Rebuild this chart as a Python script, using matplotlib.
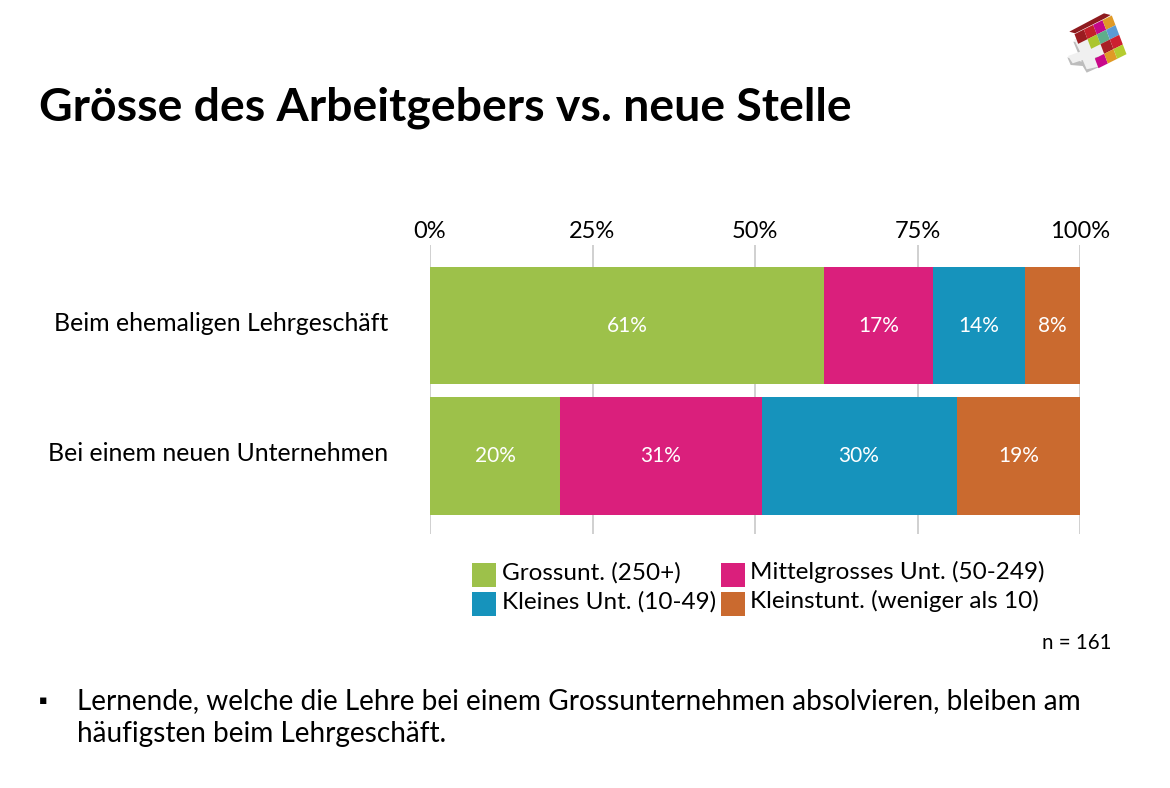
#!/usr/bin/env python3
"""Grösse des Arbeitgebers vs. neue Stelle: gestapelte Balken auf einer Folie"""

import numpy as np
from matplotlib import pyplot as plt
from matplotlib.patches import Polygon
from matplotlib.transforms import ScaledTranslation

plt.rcParams['font.family'] = ['Lato', 'DejaVu Sans']

# ======== Daten ========
categories = ['Beim ehemaligen Lehrgeschäft', 'Bei einem neuen Unternehmen']
series_names = ['Grossunt. (250+)', 'Mittelgrosses Unt. (50-249)',
                'Kleines Unt. (10-49)', 'Kleinstunt. (weniger als 10)']
grossunt = [60.6, 20.0]
mittel = [16.8, 31.0]
klein = [14.1, 30.0]
kleinst = [8.5, 19.0]
labels_grossunt = ['61%', '20%']
labels_mittel = ['17%', '31%']
labels_klein = ['14%', '30%']
labels_kleinst = ['8%', '19%']
x_ticks = [0, 25, 50, 75, 100]
colors = ['#9DC14A', '#DA1F7C', '#1693BC', '#CA6A2F']
# =======================

W, H = 1170, 788
fig = plt.figure(figsize=(W / 100, H / 100), dpi=100, facecolor='white')

# Hilfsachse in Pixeln für Logo
bg = fig.add_axes([0, 0, 1, 1])
bg.set_xlim(0, W)
bg.set_ylim(H, 0)
bg.axis('off')


def zoomed(pts):
    """Logo-Koordinaten (3x-Ausschnitt) -> Folienpixel"""
    return [(1040 + x / 3, y / 3) for x, y in pts]


# weisses Kreuz mit grauer Kante
bg.add_patch(Polygon(zoomed([(100, 125), (125, 185), (82, 172), (92, 195), (128, 198),
                             (140, 218), (180, 200), (165, 130)]),
                     fc='#BDBDBD', ec='none'))
bg.add_patch(Polygon(zoomed([(102, 118), (190, 100), (200, 165), (165, 172), (175, 200),
                             (140, 208), (128, 180), (98, 190), (84, 168), (120, 155)]),
                     fc='#F0F0F0', ec='none'))
# Oberkante
bg.add_patch(Polygon(zoomed([(88, 95), (192, 40), (212, 45), (195, 55), (105, 100)]),
                     fc='#8E1B1F', ec='none'))
u, v = np.array([28, -14]), np.array([11, 29])
origin = np.array([207, 68]) - 3 * u
logo_cells = {(0, 0): '#9B1B20', (0, 1): '#C4202A', (0, 2): '#C4088A', (0, 3): '#E09A26',
              (1, 1): '#ABC62E', (1, 2): '#5FAE8B', (1, 3): '#5B9BD5',
              (2, 2): '#A81F26', (2, 3): '#CC2030',
              (3, 1): '#C9098A', (3, 2): '#E09A26', (3, 3): '#B5CC30'}
for (r, c), col in logo_cells.items():
    m = origin + c * u + r * v
    bg.add_patch(Polygon(zoomed([m - (u + v) / 2, m + (u - v) / 2,
                                 m + (u + v) / 2, m + (v - u) / 2]),
                         fc=col, ec='none'))

# Titel und Text
fig.text(39 / W, 1 - 108 / H, 'Grösse des Arbeitgebers vs. neue Stelle',
         fontsize=33.4, fontweight='bold', color='black', va='center', ha='left')
fig.text(1112 / W, 1 - 643 / H, 'n = 161', fontsize=14.8, ha='right', va='center')
fig.text(39 / W, 1 - 700 / H, '▪', fontsize=9, ha='left', va='center',
         family=['DejaVu Sans'])
fig.text(77 / W, 1 - 701 / H,
         'Lernende, welche die Lehre bei einem Grossunternehmen absolvieren, bleiben am',
         fontsize=20.2, ha='left', va='center')
fig.text(77 / W, 1 - 734 / H, 'häufigsten beim Lehrgeschäft.',
         fontsize=20.2, ha='left', va='center')

# Diagramm
ax = fig.add_axes([430 / W, 1 - 534 / H, 650 / W, 289 / H])
ax.patch.set_alpha(0)
y = np.arange(len(categories))
series = [grossunt, mittel, klein, kleinst]
series_labels = [labels_grossunt, labels_mittel, labels_klein, labels_kleinst]
left = np.zeros(len(categories))
containers = []
for name, vals, labs, col in zip(series_names, series, series_labels, colors):
    bars = ax.barh(y, vals, left=left, height=0.9, color=col, label=name, zorder=3)
    ax.bar_label(bars, labels=labs, label_type='center', color='white', fontsize=15)
    containers.append(bars)
    left += np.array(vals)

ax.set_xlim(0, 100)
ax.set_ylim(1.598, -0.617)
ax.set_xticks(x_ticks)
ax.set_xticklabels([f'{t}%' for t in x_ticks], fontsize=17)
ax.xaxis.tick_top()
ax.tick_params(axis='x', length=0, pad=2.5)
ax.set_yticks(y)
ax.set_yticklabels(categories, fontsize=17.9, va='center')
ax.tick_params(axis='y', length=0, pad=30)
# Beschriftung sitzt im Original etwas über der Balkenmitte
for lab in ax.get_yticklabels():
    lab.set_transform(lab.get_transform() + ScaledTranslation(0, 1.5 / 72, fig.dpi_scale_trans))
ax.grid(True, axis='x', color='#C8C8C8', linewidth=1.2, zorder=0)
for s in ax.spines.values():
    s.set_visible(False)

# Legende: zeilenweise wie im Original
order = [0, 2, 1, 3]
leg = ax.legend([containers[i] for i in order], [series_names[i] for i in order],
                ncols=2, frameon=False, fontsize=17.5, loc='upper left',
                bbox_to_anchor=(472 / W, 1 - 559 / H), bbox_transform=fig.transFigure,
                borderpad=0, borderaxespad=0, handlelength=1.0, handleheight=1.146,
                handletextpad=0.22, labelspacing=0.2, columnspacing=0.2)
# Farbfelder sitzen etwas tiefer als der Text
for p in leg.get_patches():
    p.set_y(p.get_y() - 3.0)

fig.savefig('out.png', dpi=100)
